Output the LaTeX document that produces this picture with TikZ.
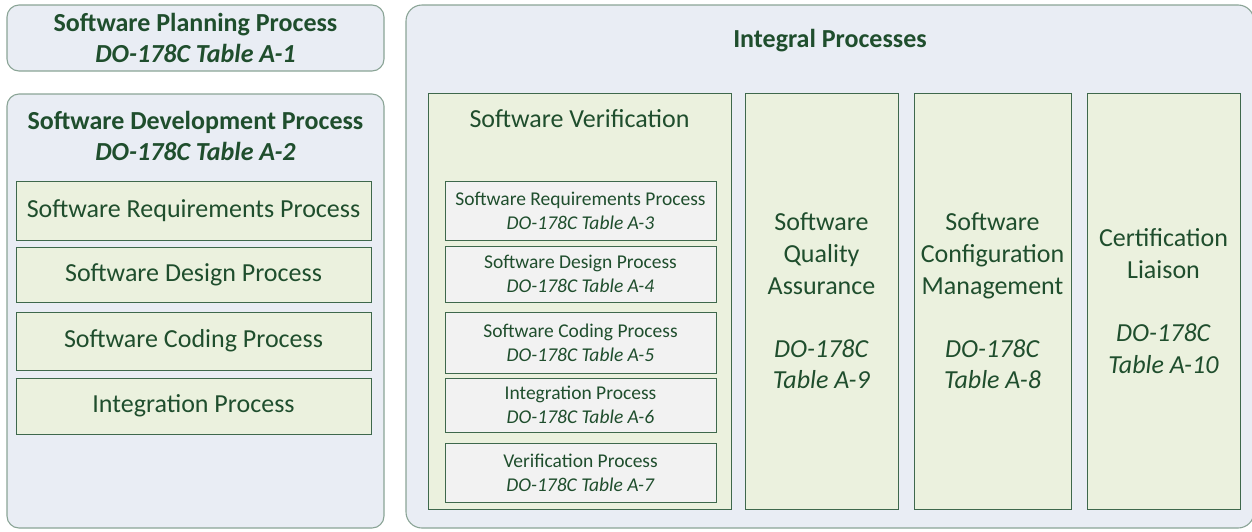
\documentclass[tikz,border=0pt]{standalone}
\usepackage{fontspec}
\setmainfont{Carlito}
\definecolor{txt}{RGB}{31,78,45}
\definecolor{outerfill}{RGB}{233,237,244}
\definecolor{outerline}{RGB}{138,164,150}
\definecolor{greenfill}{RGB}{235,241,222}
\definecolor{greenline}{RGB}{62,104,76}
\definecolor{grayfill}{RGB}{242,242,242}
\tikzset{
  outerbox/.style={draw=outerline, fill=outerfill, line width=1.1pt, rounded corners=12pt, inner sep=0pt},
  greenbox/.style={draw=greenline, fill=greenfill, line width=0.9pt, inner sep=2pt, align=center, text=txt,
     font=\fontsize{26}{31.6}\selectfont},
  subbox/.style={draw=greenline, fill=grayfill, line width=0.9pt, inner sep=0pt, align=center, text=txt,
     font=\fontsize{19.5}{23.8}\selectfont, minimum width=271pt},
  bigtext/.style={align=center, text=txt, inner sep=0pt, font=\fontsize{26}{31.6}\selectfont},
}
\begin{document}
\begin{tikzpicture}[x=1pt,y=-1pt]
\useasboundingbox (0,0) rectangle (1252,531);
% left column
\node[outerbox, minimum width=377pt, minimum height=66pt] (plan) at (195.5,38) {};
\node[bigtext] (plant) at (plan.center) {\textbf{Software Planning Process}\\\textbf{\textit{DO-178C Table A-1}}};
\node[outerbox, minimum width=377pt, minimum height=434pt] (dev) at (195.5,311) {};
\node[bigtext] (devt) at (195.5,136) {\textbf{Software Development Process}\\\textbf{\textit{DO-178C Table A-2}}};
\node[greenbox, minimum width=355pt, minimum height=59pt] (d1) at (193.5,210.5) {Software Requirements Process};
\node[greenbox, minimum width=355pt, minimum height=55pt] (d2) at (193.5,274.5) {Software Design Process};
\node[greenbox, minimum width=355pt, minimum height=58pt] (d3) at (193.5,341) {Software Coding Process};
\node[greenbox, minimum width=355pt, minimum height=56pt] (d4) at (193.5,406) {Integration Process};
% integral
\node[outerbox, rounded corners=16pt, minimum width=848pt, minimum height=523pt] (integ) at (830,266.5) {};
\node[bigtext] (integt) at (830,41) {\textbf{Integral Processes}};
\node[greenbox, minimum width=303pt, minimum height=416pt] (ver) at (579.5,301) {};
\node[bigtext] (vert) at (579.5,119) {Software Verification};
\node[subbox, minimum height=59pt] (v3) at (580.5,210.5) {Software Requirements Process\\\textit{DO-178C Table A-3}};
\node[subbox, minimum height=56pt] (v4) at (580.5,274) {Software Design Process\\\textit{DO-178C Table A-4}};
\node[subbox, minimum height=61pt] (v5) at (580.5,342.5) {Software Coding Process\\\textit{DO-178C Table A-5}};
\node[subbox, minimum height=54pt] (v6) at (580.5,405) {Integration Process\\\textit{DO-178C Table A-6}};
\node[subbox, minimum height=59pt] (v7) at (580.5,472.5) {Verification Process\\\textit{DO-178C Table A-7}};
\node[greenbox, minimum width=153pt, minimum height=416pt] (sqa) at (821.5,301) {Software\\Quality\\Assurance\\[31.6pt]\textit{DO-178C}\\\textit{Table A-9}};
\node[greenbox, minimum width=157pt, minimum height=416pt] (scm) at (992.5,301) {Software\\Configuration\\Management\\[31.6pt]\textit{DO-178C}\\\textit{Table A-8}};
\node[greenbox, minimum width=153pt, minimum height=416pt] (cert) at (1163.5,301) {Certification\\Liaison\\[31.6pt]\textit{DO-178C}\\\textit{Table A-10}};
\end{tikzpicture}
\end{document}
